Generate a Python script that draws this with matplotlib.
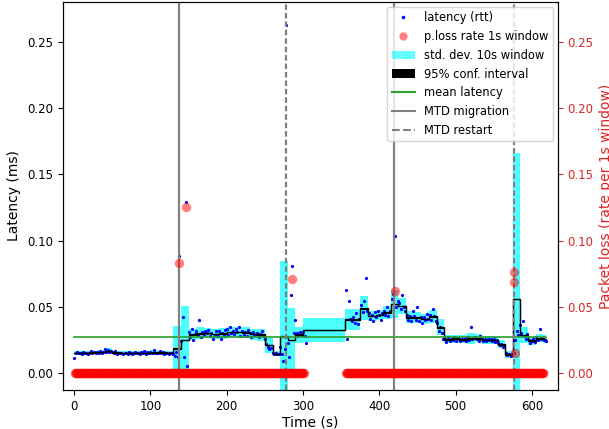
import numpy as np
import matplotlib
matplotlib.use("Agg")
import matplotlib.pyplot as plt
from matplotlib.lines import Line2D
from matplotlib.patches import Patch

# latency samples (every 2 s), in units of 1e-4 (axis units)
lat_seg1 = [
    113, 150, 158, 148, 155, 145, 160, 148, 155, 142,
    150, 165, 152, 160, 148, 162, 150, 170, 155, 158,
    182, 160, 175, 158, 170, 160, 150, 165, 145, 152,
    148, 155, 140, 152, 150, 145, 158, 150, 142, 155,
    162, 148, 155, 140, 158, 150, 165, 145, 158, 150,
    160, 148, 172, 150, 155, 152, 168, 150, 158, 145,
    148, 155, 142, 152, 150, 140, 125, 160, 120, 880,
    240, 425, 120, 1290, 50, 310, 275, 330, 250, 295,
    320, 285, 400, 270, 310, 290, 315, 300, 325, 280,
    305, 255, 290, 320, 280, 315, 260, 300, 285, 325,
    330, 290, 345, 305, 320, 295, 335, 310, 350, 280,
    320, 290, 310, 280, 325, 300, 275, 310, 285, 295,
    305, 270, 295, 315, 280, 260, 220, 200, 185, 190,
    150, 140, 148, 142, 145, 200, 140, 90, 180, 2630,
    230, 120, 590, 810, 300, 400, 300, 280, 310, 290,
    310, 280, 230,
]
lat_seg2 = [
    630, 260, 540, 410, 395, 420, 380, 450, 370, 410,
    510, 460, 540, 715, 470, 450, 410, 440, 390, 460,
    420, 470, 440, 400, 455, 470, 440, 500, 430, 465,
    560, 600, 1035, 500, 540, 530, 480, 590, 500, 470,
    440, 400, 430, 390, 470, 430, 400, 500, 390, 420,
    380, 420, 400, 445, 410, 440, 400, 480, 430, 390,
    380, 320, 350, 300, 260, 260, 235, 270, 245, 255,
    250, 275, 245, 265, 255, 240, 260, 250, 265, 245,
    275, 250, 350, 260, 265, 270, 255, 245, 280, 260,
    245, 260, 240, 255, 250, 255, 240, 260, 235, 250,
    230, 210, 220, 200, 215, 150, 135, 145, 130, 140,
    150, 250, 320, 290, 360, 300, 390, 280, 260, 295,
    250, 230, 240, 260, 235, 270, 250, 330, 255, 265,
    250, 240,
]
lat_t = np.concatenate([np.arange(0, 306, 2), np.arange(356, 619, 2)])
latency = np.array(lat_seg1 + lat_seg2) / 1e4

# 10 s windows: edges, mean and std dev (units of 1e-4)
win_edges = [0, 10, 20, 30, 40, 50, 60, 70, 80, 90, 100, 110, 120, 130, 140,
             150, 160, 170, 180, 190, 200, 210, 220, 230, 240, 250, 260, 270,
             280, 290, 300, 355, 365, 375, 385, 395, 405, 415, 425, 435, 445,
             455, 465, 475, 485, 495, 505, 515, 525, 535, 545, 555, 565, 575,
             585, 595, 605, 615, 618]
win_mean = [150, 150, 155, 158, 168, 155, 150, 150, 152, 153, 155, 155, 150,
            186, 250, 290, 300, 302, 295, 297, 310, 310, 305, 293, 290, 210,
            145, 274, 250, 290, 325, 405, 405, 489, 430, 438, 456, 520, 506,
            420, 418, 408, 425, 345, 254, 260, 254, 262, 262, 250, 249, 217,
            141, 559, 287, 244, 262, 258]
win_std = [15, 15, 15, 18, 20, 15, 15, 15, 18, 15, 18, 15, 15,
           170, 256, 40, 45, 40, 40, 40, 40, 40, 40, 40, 45, 60, 20, 570,
           240, 60, 90, 80, 80, 90, 40, 40, 50, 105, 60, 45, 40, 40, 50, 60,
           30, 30, 30, 40, 30, 30, 30, 30, 25, 1105, 60, 30, 30, 30]
ci_half = 2  # 95% conf. interval half width (1e-4)
mean_latency = 0.0275

# packet loss rate (1 s window)
loss_spans = [(1, 301), (356, 615)]
loss_event_t = [138, 147, 286, 420, 576, 577, 578]
loss_event_v = [0.083, 0.125, 0.071, 0.062, 0.076, 0.069, 0.015]

mtd_migration = [137.5, 419.5]
mtd_restart = [277.5, 576.5]

loss_t = np.concatenate([np.arange(a, b + 1) for a, b in loss_spans] + [loss_event_t])
loss_v = np.concatenate([np.zeros(b - a + 1) for a, b in loss_spans] + [loss_event_v])

m = np.array(win_mean + win_mean[-1:]) / 1e4
s = np.array(win_std + win_std[-1:]) / 1e4
ci = ci_half / 1e4

fig = plt.figure(figsize=(6.09, 4.29), dpi=100)
ax = fig.add_axes([0.103, 0.0909, 0.813, 0.9044])
ax2 = ax.twinx()

ax.fill_between(win_edges, m - s, m + s, step="post", color="cyan", alpha=0.7, lw=0, zorder=1)
ax.plot(lat_t, latency, ".", color="blue", ms=2.6, zorder=2)
ax.fill_between(win_edges, m - ci, m + ci, step="post", facecolor="black", edgecolor="black", lw=0.9, zorder=3)
ax.plot([lat_t[0], lat_t[-1]], [mean_latency, mean_latency], color="tab:green", lw=1.2, zorder=4)
for x in mtd_migration:
    ax.axvline(x, color="gray", lw=1.6, zorder=5)
for x in mtd_restart:
    ax.axvline(x, color="gray", lw=1.6, ls=(0, (2.5, 1.3)), zorder=5)

ax2.scatter(loss_t, loss_v, s=46, color="red", alpha=0.5, lw=0)

ax.set_xlim(-15, 634)
ax.set_ylim(-0.0128, 0.280)
ax2.set_ylim(-0.0128, 0.280)
ax.set_xticks([0, 100, 200, 300, 400, 500, 600])
ax.set_yticks([0, 0.05, 0.10, 0.15, 0.20, 0.25])
ax2.set_yticks([0, 0.05, 0.10, 0.15, 0.20, 0.25])
ax.set_xlabel("Time (s)", fontsize=10, labelpad=2)
ax.set_ylabel("Latency (ms)", fontsize=10)
ax2.set_ylabel("Packet loss (rate per 1s window)", color="tab:red", fontsize=10)
ax.tick_params(labelsize=8.5)
ax2.tick_params(axis="y", colors="tab:red", labelsize=8.5)

handles = [
    Line2D([], [], ls="", marker=".", color="blue", ms=3),
    Line2D([], [], ls="", marker="o", color="red", alpha=0.5, ms=6, mew=0),
    Patch(facecolor="cyan", alpha=0.6),
    Patch(facecolor="black"),
    Line2D([], [], color="tab:green", lw=1.5),
    Line2D([], [], color="gray", lw=1.5),
    Line2D([], [], color="gray", lw=1.5, ls="--"),
]
labels = ["latency (rtt)", "p.loss rate 1s window", "std. dev. 10s window",
          "95% conf. interval", "mean latency", "MTD migration", "MTD restart"]
ax2.legend(handles, labels, loc="upper right", fontsize=8.3, borderaxespad=0.4)

fig.savefig("out.png", dpi=100)
